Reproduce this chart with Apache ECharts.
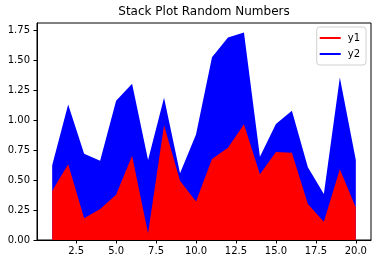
<!DOCTYPE html>
<html>
<head>
<meta charset="utf-8">
<script src="https://cdn.jsdelivr.net/npm/echarts@6/dist/echarts.min.js"></script>
<style>
html,body{margin:0;padding:0;background:#fff;}
#chart{width:378px;height:264px;}
</style>
</head>
<body>
<div id="chart"></div>
<script>
const xValues = [1,2,3,4,5,6,7,8,9,10,11,12,13,14,15,16,17,18,19,20];
const y1 = [0.41,0.632,0.182,0.258,0.376,0.702,0.056,0.956,0.494,0.32,0.675,0.769,0.964,0.547,0.733,0.726,0.30,0.152,0.589,0.27];
const y2 = [0.213,0.498,0.536,0.403,0.785,0.600,0.611,0.230,0.062,0.56,0.848,0.918,0.764,0.147,0.234,0.350,0.306,0.231,0.765,0.397];
const xTicks = [2.5,5.0,7.5,10.0,12.5,15.0,17.5,20.0];
const yTicks = [0,0.25,0.5,0.75,1.0,1.25,1.5,1.75];
const seriesNames = ['y1','y2'];
const colors = ['#ff0000','#0000ff'];
const titleText = 'Stack Plot Random Numbers';

const chart = echarts.init(document.getElementById('chart'), null, {renderer:'canvas'});
const font = 'DejaVu Sans';
// cumulative stack tops (stackplot)
const stackTops = [y1, y1.map((v, j) => v + y2[j])];
const mkSeries = (i, z) => ({
  name: seriesNames[i], type: 'line', z: z,
  data: xValues.map((x, j) => [x, stackTops[i][j]]),
  showSymbol: false, symbol: 'none',
  color: colors[i],
  itemStyle: {color: colors[i]},
  lineStyle: {width: 0, color: colors[i]},
  areaStyle: {color: colors[i], opacity: 1, origin: 'start'}
});
chart.setOption({
  animation: false,
  backgroundColor: '#fff',
  graphic: [{
    type: 'text', x: 204, y: 6,
    style: {text: titleText, textAlign: 'center', textVerticalAlign: 'top',
      font: '12px "DejaVu Sans"', fill: '#000'}
  }],
  legend: {
    orient: 'vertical', right: 12, top: 27,
    data: seriesNames,
    icon: 'rect', itemWidth: 21, itemHeight: 2, itemGap: 4,
    padding: [5, 6, 5, 3],
    borderColor: '#d0d0d0', borderWidth: 1, borderRadius: 3,
    backgroundColor: 'rgba(255,255,255,0.8)',
    textStyle: {fontFamily: font, fontSize: 10, color: '#000', lineHeight: 12, padding: [0,0,0,2]}
  },
  grid: {left: 37, right: 7, top: 23, bottom: 24, show: true, borderColor: '#000', borderWidth: 1, backgroundColor: 'transparent'},
  xAxis: {
    type: 'value', min: 0.05, max: 20.95,
    splitLine: {show: false},
    axisLine: {show: true, lineStyle: {color: '#000', width: 1}},
    axisTick: {show: true, length: 3.5, lineStyle: {color: '#000'}, customValues: xTicks},
    axisLabel: {customValues: xTicks, margin: 6, fontFamily: font, fontSize: 10, color: '#000',
      formatter: v => v.toFixed(1)}
  },
  yAxis: {
    type: 'value', min: 0, max: 1.808,
    splitLine: {show: false},
    axisLine: {show: true, lineStyle: {color: '#000', width: 1}},
    axisTick: {show: true, length: 3.5, lineStyle: {color: '#000'}, customValues: yTicks},
    axisLabel: {customValues: yTicks, margin: 7, fontFamily: font, fontSize: 10, color: '#000',
      formatter: v => v.toFixed(2)}
  },
  series: [mkSeries(0, 3), mkSeries(1, 2)]
});
</script>
</body>
</html>
